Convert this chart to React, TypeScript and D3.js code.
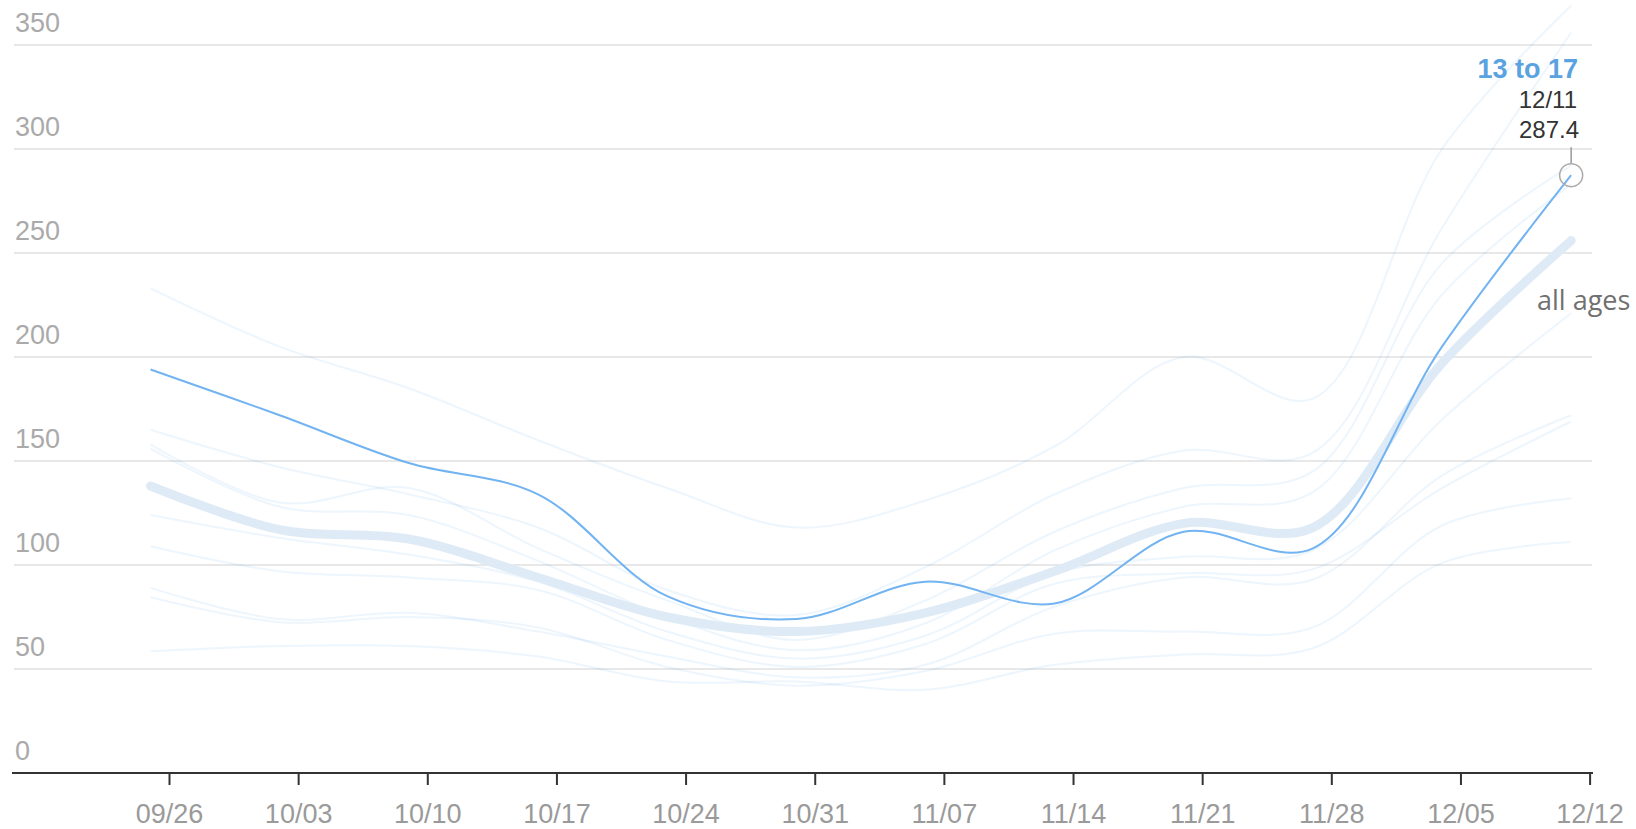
import * as d3 from "d3";
import { useEffect, useRef } from "react";

// weekly points (week ending)
const weekEnding = [
  "2021-09-25", "2021-10-02", "2021-10-09", "2021-10-16", "2021-10-23", "2021-10-30",
  "2021-11-06", "2021-11-13", "2021-11-20", "2021-11-27", "2021-12-04", "2021-12-11",
];

// highlighted group
const teens = [194, 172, 149, 134, 85, 74, 92, 81.5, 116, 108, 205, 287.4];
const allAges = [138, 117, 112.5, 94, 75, 68, 77, 97, 120, 118, 197, 256];

// the other age groups, drawn faint
const age18to24 = [233, 205, 185, 160, 137, 118, 131, 157, 200, 180, 300, 369];
const age25to34 = [165, 147, 134, 118, 88, 76, 99, 134, 155, 154, 262, 356];
const age5to12 = [158, 130, 137, 108, 83, 64, 83, 116, 137, 145, 245, 292];
const age35to44 = [156, 128, 124, 102, 75, 59, 72, 107, 128, 135, 230, 283];
const age45to54 = [124, 113, 105, 92, 68, 55, 66, 96, 104, 107, 170, 221];
const age0to4 = [109, 97, 94, 88, 64, 51, 62, 91, 96, 98, 137, 169];
const age55to64 = [89, 74, 77, 68, 56, 46, 52, 80, 94, 93, 143, 172];
const age65to74 = [84.5, 72.5, 75, 70, 51, 42, 49, 67, 68, 70, 119, 132];
const age75plus = [58.5, 61, 61, 56, 44, 44, 40, 52, 57, 60, 101, 111];

const otherGroups = [
  age18to24, age25to34, age5to12, age35to44, age45to54,
  age0to4, age55to64, age65to74, age75plus,
];

const yTicks = [0, 50, 100, 150, 200, 250, 300, 350];

const WIDTH = 1636;
const HEIGHT = 829;

export default function App() {
  const svgRef = useRef<SVGSVGElement | null>(null);

  useEffect(() => {
    const svg = d3.select(svgRef.current);
    svg.selectAll("*").remove();

    const parse = d3.timeParse("%Y-%m-%d");
    const dates = weekEnding.map((d) => parse(d) as Date);

    const x = d3
      .scaleTime()
      .domain([new Date(2021, 8, 26), new Date(2021, 11, 12)])
      .range([169, 1589.6]);

    const y = d3.scaleLinear().domain([0, 350]).range([773, 45]);

    const font = "'Liberation Sans', Arial, sans-serif";

    // grid lines
    svg
      .append("g")
      .selectAll("line")
      .data(yTicks.filter((t) => t > 0))
      .join("line")
      .attr("x1", 14)
      .attr("x2", 1592)
      .attr("y1", (d) => y(d))
      .attr("y2", (d) => y(d))
      .attr("stroke", "#e8e8e8")
      .attr("stroke-width", 2);

    // y labels sit above their grid line
    svg
      .append("g")
      .selectAll("text")
      .data(yTicks)
      .join("text")
      .attr("x", 15)
      .attr("y", (d) => y(d) - 13)
      .attr("font-family", font)
      .attr("font-size", 27)
      .attr("fill", "#aaaaaa")
      .text((d) => d);

    const line = d3
      .line<number>()
      .x((_, i) => x(dates[i]))
      .y((d) => y(d))
      .curve(d3.curveCatmullRom.alpha(0.5));

    // faint lines
    svg
      .append("g")
      .selectAll("path")
      .data(otherGroups)
      .join("path")
      .attr("d", (d) => line(d))
      .attr("fill", "none")
      .attr("stroke", "#3b93ee")
      .attr("stroke-opacity", 0.09)
      .attr("stroke-width", 2);

    // all ages
    svg
      .append("path")
      .attr("d", line(allAges))
      .attr("fill", "none")
      .attr("stroke", "#deebf6")
      .attr("stroke-width", 9)
      .attr("stroke-linecap", "round");

    // highlighted line
    svg
      .append("path")
      .attr("d", line(teens))
      .attr("fill", "none")
      .attr("stroke", "#72b3f1")
      .attr("stroke-width", 2);

    // x axis
    const xAxis = svg
      .append("g")
      .attr("transform", `translate(0,${y(0)})`)
      .call(
        d3
          .axisBottom(x)
          .ticks(d3.timeWeek.every(1))
          .tickFormat((d) => d3.timeFormat("%m/%d")(d as Date))
          .tickSize(12)
          .tickPadding(19)
      );
    xAxis.select(".domain").remove();
    xAxis.selectAll(".tick line").attr("stroke", "#333").attr("stroke-width", 2);
    xAxis
      .selectAll(".tick text")
      .attr("font-family", font)
      .attr("font-size", 27)
      .attr("fill", "#9a9a9a");
    svg
      .append("line")
      .attr("x1", 12)
      .attr("x2", 1593)
      .attr("y1", y(0))
      .attr("y2", y(0))
      .attr("stroke", "#333")
      .attr("stroke-width", 2);

    // tooltip at the last point
    const lastDate = dates[dates.length - 1];
    const lastVal = teens[teens.length - 1];
    const cx = x(lastDate);
    const cy = y(lastVal);

    svg
      .append("line")
      .attr("x1", cx)
      .attr("x2", cx)
      .attr("y1", cy - 28)
      .attr("y2", cy - 12)
      .attr("stroke", "#999")
      .attr("stroke-width", 1.5);

    svg
      .append("circle")
      .attr("cx", cx)
      .attr("cy", cy)
      .attr("r", 11.5)
      .attr("fill", "none")
      .attr("stroke", "#aaa")
      .attr("stroke-width", 1.5);

    const tip = svg
      .append("g")
      .attr("font-family", font)
      .attr("text-anchor", "end");
    tip
      .append("text")
      .attr("x", 1578)
      .attr("y", 78)
      .attr("font-size", 27)
      .attr("font-weight", "bold")
      .attr("fill", "#5aa2e0")
      .text("13 to 17");
    tip
      .append("text")
      .attr("x", 1577)
      .attr("y", 108)
      .attr("font-size", 24)
      .attr("fill", "#333")
      .text(d3.timeFormat("%m/%d")(lastDate));
    tip
      .append("text")
      .attr("x", 1579)
      .attr("y", 138)
      .attr("font-size", 24)
      .attr("fill", "#333")
      .text(lastVal.toFixed(1));

    // all ages label
    svg
      .append("text")
      .attr("x", 1537)
      .attr("y", 310)
      .attr("font-family", "'Open Sans', 'Noto Sans', sans-serif")
      .attr("font-size", 27)
      .attr("fill", "#707070")
      .text("all ages");
  }, []);

  return (
    <svg
      ref={svgRef}
      width={WIDTH}
      height={HEIGHT}
      style={{ position: "absolute", left: 0, top: 0, display: "block", background: "#fff" }}
    />
  );
}
